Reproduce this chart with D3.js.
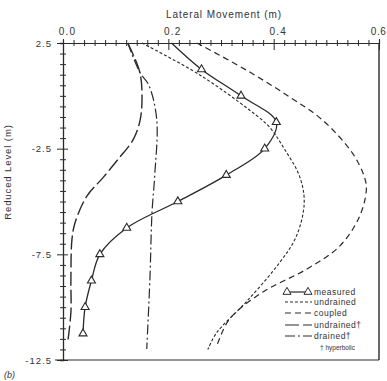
<!DOCTYPE html>
<html><head><meta charset="utf-8">
<script src="https://cdn.jsdelivr.net/npm/d3@7"></script>
<style>
html,body{margin:0;padding:0;background:#fff;}
svg{display:block;}
text{font-family:"Liberation Sans",Arial,sans-serif;fill:#333;}
</style></head>
<body>
<svg id="c" width="387" height="381"></svg>
<script>
// ---- data (lateral movement in m vs reduced level in m) ----
const measuredLevels = [2.5,1.25,0,-1.25,-2.5,-3.75,-5,-6.25,-7.5,-8.75,-10,-11.25];
const measuredValues = [0.206,0.263,0.338,0.405,0.383,0.310,0.218,0.121,0.070,0.054,0.042,0.038];
const measuredMarkers = [false,true,true,true,true,true,true,true,true,true,true,true];

const undrainedLevels = [2.5,1.0,-0.67,-1.48,-2.5,-3.8,-5.05,-6.65,-7.9,-9.75,-11.2,-12.0];
const undrainedValues = [0.150,0.259,0.354,0.392,0.420,0.449,0.458,0.443,0.411,0.348,0.292,0.275];

const coupledLevels = [2.5,1.22,-0.05,-1.13,-2.69,-3.82,-4.43,-5.71,-7.12,-8.21,-9.29,-10.57,-11.84];
const coupledValues = [0.254,0.348,0.430,0.492,0.549,0.572,0.576,0.563,0.525,0.462,0.379,0.316,0.292];

const undrainedHypLevels = [2.5,1.1,-0.2,-1.2,-2.08,-3.02,-3.87,-4.76,-5.99,-6.79,-8.68,-10.24,-11.65];
const undrainedHypValues = [0.123,0.146,0.150,0.146,0.133,0.104,0.076,0.045,0.023,0.017,0.015,0.015,0.009];

const drainedHypLevels = [2.5,1.1,0.5,-1.13,-3.82,-5.52,-8.68,-11.98];
const drainedHypValues = [0.123,0.146,0.163,0.178,0.174,0.169,0.165,0.159];

const xTickLabels = ["0.0","0.2","0.4","0.6"];
const xTickValues = [0,0.2,0.4,0.6];
const yTickLabels = ["2.5","-2.5","-7.5","-12.5"];
const yTickValues = [2.5,-2.5,-7.5,-12.5];
const legendLabels = ["measured","undrained","coupled","undrained\u2020","drained\u2020"];

// ---- layout ----
const svg = d3.select("#c");
const L = 63, R = 379, T = 43, B = 360;
const x = d3.scaleLinear().domain([0,0.6]).range([L,R]);
const y = d3.scaleLinear().domain([2.5,-12.5]).range([T,B]);
const ink = "#2a2a2a";

// frame
svg.append("line").attr("x1",R).attr("x2",R).attr("y1",T).attr("y2",B).attr("stroke",ink).attr("stroke-width",1.4);
svg.append("line").attr("x1",L-8).attr("x2",R).attr("y1",B).attr("y2",B).attr("stroke",ink).attr("stroke-width",1.2);

// x axis (top) minor ticks crossing the line
const xMinor = d3.range(0,0.6001,0.02);
const gx = svg.append("g").attr("transform",`translate(0,${T})`)
  .call(d3.axisTop(x).tickValues(xMinor).tickSize(3).tickFormat(""));
gx.select(".domain").attr("stroke",ink).attr("stroke-width",1.2);
gx.selectAll(".tick line").attr("stroke",ink).attr("y1",3).attr("y2",-3)
  .filter(d=>Math.abs(d*10-Math.round(d*10))<1e-6 && Math.round(d*10)%2===0).attr("y1",7).attr("y2",-4);
// x labels
const gxl = svg.append("g").attr("transform",`translate(0,${T})`)
  .call(d3.axisTop(x).tickValues(xTickValues).tickSize(0).tickPadding(8).tickFormat((d,i)=>xTickLabels[i]));
gxl.select(".domain").remove();
gxl.selectAll("text").attr("font-size",10).attr("letter-spacing",1.2).attr("dx",4).attr("fill","#333")
  .style("font-family",'"Liberation Sans",Arial,sans-serif');
gxl.selectAll("text").filter(d=>d===0.6).attr("text-anchor","end").attr("dx",7).attr("letter-spacing",0.6);

// y axis (left) minor ticks
const yMinor = d3.range(-12.5,2.5001,0.5);
const gy = svg.append("g").attr("transform",`translate(${L},0)`)
  .call(d3.axisLeft(y).tickValues(yMinor).tickSize(3).tickFormat(""));
gy.select(".domain").attr("stroke",ink).attr("stroke-width",1.3);
gy.selectAll(".tick line").attr("stroke",ink).attr("x1",3).attr("x2",-3)
  .filter(d=>yTickValues.some(v=>Math.abs(v-d)<1e-6)).attr("x1",5).attr("x2",-6);
const gyl = svg.append("g").attr("transform",`translate(${L},0)`)
  .call(d3.axisLeft(y).tickValues(yTickValues).tickSize(0).tickPadding(11).tickFormat((d,i)=>yTickLabels[i]));
gyl.select(".domain").remove();
gyl.selectAll("text").attr("font-size",9.5).attr("letter-spacing",1).attr("fill","#333")
  .style("font-family",'"Liberation Sans",Arial,sans-serif');

// titles
svg.append("text").attr("x",224).attr("y",18).attr("text-anchor","middle")
  .attr("font-size",10).attr("letter-spacing",0.9).text("Lateral Movement (m)");
svg.append("text").attr("transform","translate(11,172) rotate(-90)").attr("text-anchor","middle")
  .attr("font-size",9.5).attr("letter-spacing",0.9).text("Reduced Level (m)");
svg.append("text").attr("x",4).attr("y",378).attr("font-size",9).attr("font-style","italic").text("(b)");

// curves
const line = d3.line().x(d=>x(d[0])).y(d=>y(d[1])).curve(d3.curveCatmullRom.alpha(0.5));
const series = [
  {v:undrainedValues, l:undrainedLevels, dash:"3,2", w:1.1},
  {v:coupledValues, l:coupledLevels, dash:"6,4", w:1.2},
  {v:undrainedHypValues, l:undrainedHypLevels, dash:"14,4", w:1.4},
  {v:drainedHypValues, l:drainedHypLevels, dash:"10,3,2,3", w:1.2},
  {v:measuredValues, l:measuredLevels, dash:null, w:1.3}
];
series.forEach(s=>{
  const pts = s.v.map((v,i)=>[v,s.l[i]]);
  const p = svg.append("path").datum(pts).attr("d",line).attr("fill","none")
    .attr("stroke",ink).attr("stroke-width",s.w);
  if (s.dash) p.attr("stroke-dasharray",s.dash);
});
const tri = d3.symbol().type(d3.symbolTriangle).size(28);
svg.append("g").selectAll("path").data(measuredValues.map((v,i)=>[v,measuredLevels[i],measuredMarkers[i]]).filter(d=>d[2]))
  .join("path").attr("d",tri).attr("transform",d=>`translate(${x(d[0])},${y(d[1])})`)
  .attr("fill","#fff").attr("stroke",ink).attr("stroke-width",1.1);

// legend
const legY = [292,302,313,325,336];
const legDash = [null,"3,2","6,4","14,4","10,3,2,3"];
legendLabels.forEach((lab,i)=>{
  const ln = svg.append("line").attr("x1",i===0?287:285).attr("x2",i===0?308:312).attr("y1",legY[i]).attr("y2",legY[i])
    .attr("stroke",ink).attr("stroke-width",1.2);
  if (legDash[i]) ln.attr("stroke-dasharray",legDash[i]);
  if (i===0) {
    [287,308].forEach(px=>svg.append("path").attr("d",tri).attr("transform",`translate(${px},${legY[i]})`)
      .attr("fill","#fff").attr("stroke",ink).attr("stroke-width",1));
  }
  svg.append("text").attr("x",314).attr("y",legY[i]+3).attr("font-size",8.5).attr("letter-spacing",0.5).text(lab);
});
svg.append("text").attr("x",320).attr("y",350).attr("font-size",6.5).text("\u2020 hyperbolic");
</script>
</body></html>
